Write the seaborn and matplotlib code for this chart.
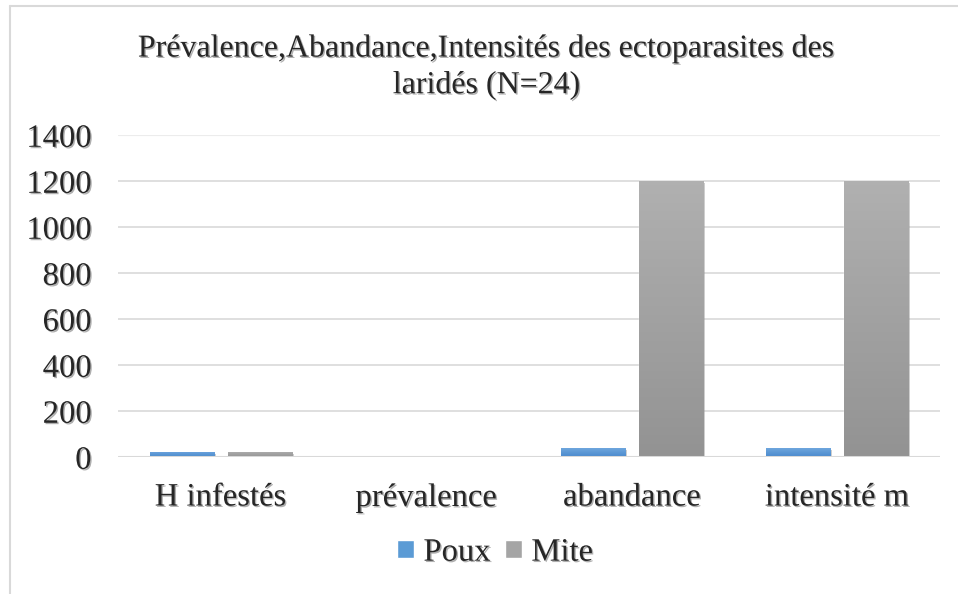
import numpy as np
import pandas as pd
import matplotlib
matplotlib.use("Agg")
import matplotlib.pyplot as plt
import matplotlib.patheffects as pe
from matplotlib.lines import Line2D
import seaborn as sns

# valeurs
categories = ["H infestés", "prévalence", "abandance", "intensité m"]
poux = [24, 1, 38, 38]
mite = [24, 1, 1200, 1200]
series = ["Poux", "Mite"]
y_ticks = [0, 200, 400, 600, 800, 1000, 1200, 1400]
titre = "Prévalence,Abandance,Intensités des ectoparasites des\nlaridés (N=24)"

couleurs = {"Poux": "#5b9bd5", "Mite": "#a5a5a5"}
degrades = {"Poux": ("#6ea6dd", "#4a89cd"), "Mite": ("#b0b0b0", "#939393")}

df = pd.DataFrame({
    "categorie": categories * 2,
    "valeur": poux + mite,
    "serie": ["Poux"] * len(categories) + ["Mite"] * len(categories),
})

sns.set_style("white")
plt.rcParams["font.family"] = ["Liberation Serif", "DejaVu Serif"]

ombre_txt = [pe.withSimplePatchShadow(offset=(1, -1), shadow_rgbFace="#606060", alpha=0.5)]

fig = plt.figure(figsize=(9.58, 5.94), dpi=100)
ax = fig.add_axes([0.123, 0.2306, 0.858, 0.542])

sns.barplot(data=df, x="categorie", y="valeur", hue="serie", order=categories,
            hue_order=series, palette=couleurs, width=0.76, gap=0.18,
            saturation=1, ax=ax, zorder=3)

# degrade vertical dans chaque barre
n = len(categories)
for i, patch in enumerate(ax.patches[:2 * n]):
    nom = series[i // n]
    haut, bas = degrades[nom]
    x0, y0 = patch.get_x(), patch.get_y()
    w, h = patch.get_width(), patch.get_height()
    if h <= 0:
        continue
    c1 = np.array(matplotlib.colors.to_rgb(haut))
    c2 = np.array(matplotlib.colors.to_rgb(bas))
    t = np.linspace(0, 1, 64)[:, None]
    img = (c1 * (1 - t) + c2 * t)[:, None, :]
    im = ax.imshow(img, extent=(x0, x0 + w, y0, y0 + h), origin="upper",
                   aspect="auto", zorder=4)
    im.set_clip_path(patch)
    patch.set_path_effects([pe.SimplePatchShadow(offset=(1.5, -1.5), shadow_rgbFace="#555555", alpha=0.35),
                            pe.Normal()])

ax.set_xlim(-0.5, n - 0.5)
ax.set_ylim(0, 1400)
ax.set_yticks(y_ticks)
ax.set_yticklabels([str(v) for v in y_ticks])
for v in y_ticks[1:]:
    ax.axhline(v, color="#d9d9d9" if v < 1400 else "#ececec", lw=1.2 if v < 1400 else 0.8, zorder=1)
ax.axhline(0, color="#d9d9d9", lw=2.2, zorder=5)

for s in ax.spines.values():
    s.set_visible(False)
ax.tick_params(axis="both", length=0, labelsize=23.5)
ax.tick_params(axis="y", pad=19)
ax.tick_params(axis="x", pad=18)
ax.set_xlabel("")
ax.set_ylabel("")
for lab in ax.get_xticklabels() + ax.get_yticklabels():
    lab.set_path_effects(ombre_txt)

sns.move_legend(ax, "center", bbox_to_anchor=(0.517, 0.07), bbox_transform=fig.transFigure,
                ncol=2, frameon=False, title=None, fontsize=23.5,
                handlelength=0.5, handleheight=0.5, handletextpad=0.3, columnspacing=0.45)
for txt in ax.get_legend().get_texts():
    txt.set_path_effects(ombre_txt)

fig.text(0.508, 0.887, titre, ha="center", va="center", fontsize=23,
         linespacing=1.33, path_effects=ombre_txt)

# cadre du graphique
fig.add_artist(Line2D([10 / 958, 10 / 958], [0, 1 - 6 / 594], color="#d9d9d9", lw=1.5))
fig.add_artist(Line2D([10 / 958, 1], [1 - 6 / 594, 1 - 6 / 594], color="#d9d9d9", lw=1.5))

fig.savefig("out.png", dpi=100)
